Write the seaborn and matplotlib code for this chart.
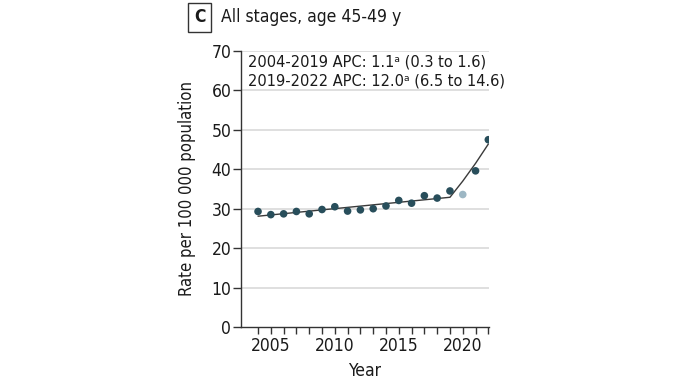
import matplotlib
matplotlib.use("Agg")
import matplotlib.pyplot as plt
from matplotlib import font_manager as fm
import seaborn as sns
import pandas as pd

years = list(range(2004, 2023))
rates = [29.3, 28.5, 28.7, 29.3, 28.7, 29.8, 30.5, 29.4, 29.7, 30.0,
         30.7, 32.1, 31.4, 33.3, 32.7, 34.5, 33.6, 39.6, 47.5]
excluded_year = 2020
fit_years = [2004, 2019, 2020, 2021, 2022]
fit_values = [28.1, 32.9, 37.0, 41.5, 46.4]
yticks = [0, 10, 20, 30, 40, 50, 60, 70]
xticks = [2005, 2010, 2015, 2020]
ann_lines = ["2004-2019 APC: 1.1ᵃ (0.3 to 1.6)", "2019-2022 APC: 12.0ᵃ (6.5 to 14.6)"]

sns.set_theme(style="white")

names = {f.name for f in fm.fontManager.ttflist}
stretch = "normal"
if "Liberation Sans Narrow" in names:
    fam = "Liberation Sans Narrow"
elif any(f.name == "DejaVu Sans" and f.stretch == "condensed" for f in fm.fontManager.ttflist):
    fam = "DejaVu Sans"
    stretch = "condensed"
else:
    fam = "DejaVu Sans"
plt.rcParams['font.family'] = [fam, 'DejaVu Sans']
plt.rcParams['font.stretch'] = stretch
plt.rcParams['text.color'] = "#1a1a1a"
plt.rcParams['axes.labelcolor'] = "#1a1a1a"
plt.rcParams['xtick.color'] = "#1a1a1a"
plt.rcParams['ytick.color'] = "#1a1a1a"

df = pd.DataFrame({"Year": years, "Rate": rates})
df["kind"] = ["excluded" if y == excluded_year else "included" for y in years]
fit = pd.DataFrame({"Year": fit_years, "Rate": fit_values})

fig = plt.figure(figsize=(6.89, 3.88), dpi=100)
ax = fig.add_axes([0.3498, 0.1572, 0.3599, 0.7114])

for t in yticks[1:]:
    ax.axhline(t, color="#dcdcdc", lw=1.3, zorder=0)

sns.lineplot(data=fit, x="Year", y="Rate", ax=ax, color="#3a3a3a", lw=1.0, zorder=2)
sns.scatterplot(data=df, x="Year", y="Rate", hue="kind", ax=ax,
                palette={"included": "#284e5b", "excluded": "#9db7c4"},
                s=30, edgecolor="none", legend=False, zorder=3)

ax.set_xlim(2002.67, 2022.05)
ax.set_ylim(0, 70)
ax.set_yticks(yticks)
ax.set_xticks(xticks)
ax.set_xticks(years, minor=True)
ax.tick_params(axis="both", which="major", labelsize=12.5, length=5, width=1, color="#333333",
               direction="out", left=True, bottom=True)
ax.tick_params(axis="y", length=6, pad=1)
ax.tick_params(axis="x", which="minor", length=5, width=1, color="#333333", direction="out", bottom=True)
ax.tick_params(axis="x", pad=2)
sns.despine(ax=ax)
for s in ["left", "bottom"]:
    ax.spines[s].set_color("#333333")
    ax.spines[s].set_linewidth(1.0)
ax.set_xlabel("Year", fontsize=12.5, labelpad=5)
ax.set_ylabel("Rate per 100 000 population", fontsize=12)
ax.yaxis.set_label_coords(-0.18, 0.5)

ax.text(2003.2, 67.2, ann_lines[0], fontsize=11.7, va="center", ha="left")
ax.text(2003.2, 62.4, ann_lines[1], fontsize=11.7, va="center", ha="left")

fig.text(0.2896, 0.955, "C", fontsize=12.5, fontweight="bold", ha="center", va="center",
         bbox=dict(boxstyle="square,pad=0.33", fc="white", ec="#333333", lw=1))
fig.text(0.321, 0.956, "All stages, age 45-49 y", fontsize=12.6, ha="left", va="center")

fig.savefig("out.png", dpi=100)
